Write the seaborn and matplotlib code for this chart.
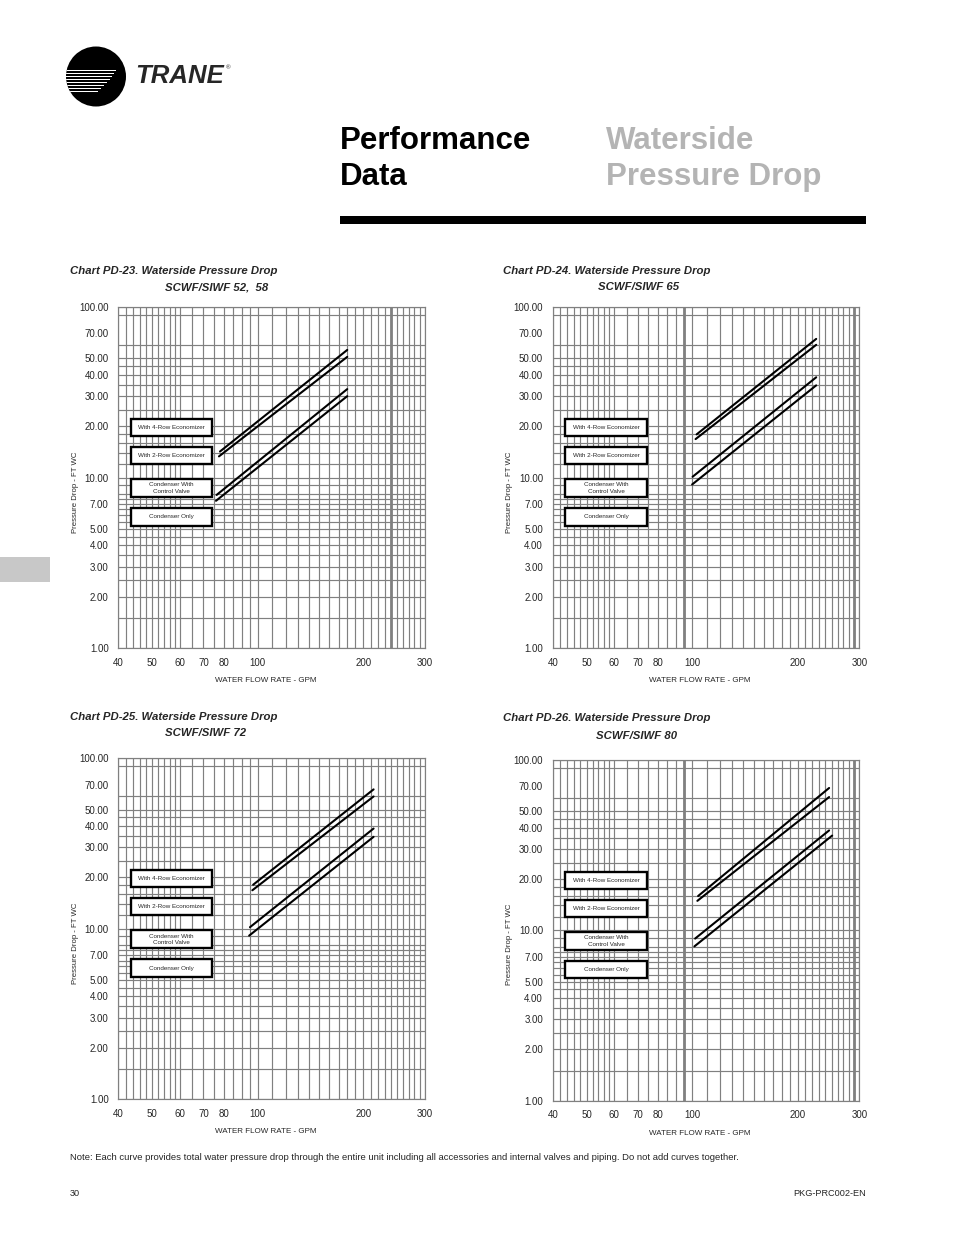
import numpy as np
import pandas as pd
import matplotlib
matplotlib.use("Agg")
import matplotlib.pyplot as plt
import seaborn as sns
from matplotlib.patches import Rectangle, Circle
from matplotlib.ticker import FixedLocator, NullFormatter, FixedFormatter

# ---------------- data ----------------
chart_ids = ["PD-23", "PD-24", "PD-25", "PD-26"]
chart_models = ["SCWF/SIWF 52,  58", "SCWF/SIWF 65", "SCWF/SIWF 72", "SCWF/SIWF 80"]
curve_names = ["With 4-Row Economizer", "With 2-Row Economizer",
               "Condenser With\nControl Valve", "Condenser Only"]

# start / end flow (GPM) and pressure drop (FT WC) of each curve, per chart
pd23_gpm = [[78.0, 180.0], [77.5, 180.0], [76.3, 180.0], [76.0, 180.0]]
pd23_ft = [[14.2, 56.0], [13.3, 51.0], [7.9, 33.0], [7.3, 30.0]]

pd24_gpm = [[103.0, 226.0], [102.3, 226.0], [100.3, 226.0], [100.0, 226.0]]
pd24_ft = [[17.9, 65.0], [16.8, 60.0], [10.1, 38.7], [9.1, 34.7]]

pd25_gpm = [[97.0, 214.0], [96.5, 214.0], [95.0, 214.0], [94.5, 214.0]]
pd25_ft = [[18.1, 65.7], [16.8, 59.7], [10.2, 38.7], [9.1, 34.6]]

pd26_gpm = [[104.0, 246.0], [103.5, 246.0], [102.0, 246.0], [101.5, 251.0]]
pd26_ft = [[15.9, 68.5], [14.9, 60.6], [8.95, 38.6], [8.05, 36.0]]

x_tick_vals = [40, 50, 60, 70, 80, 100, 200, 300]
x_tick_labels = ["40", "50", "60", "70", "80", "100", "200", "300"]
y_tick_vals = [1, 2, 3, 4, 5, 7, 10, 20, 30, 40, 50, 70, 100]
y_tick_labels = ["%.2f" % v for v in y_tick_vals]

# graph-paper grid of the printed charts
x_grid = list(range(40, 60, 2)) + list(range(60, 100, 5)) + list(range(100, 301, 10))
y_grid = [1, 1.5, 2, 2.5, 3, 3.5, 4, 4.5, 5, 5.5, 6, 6.5, 7, 7.5, 8, 9, 10,
          12, 14, 16, 18, 20, 25, 30, 35, 40, 45, 50, 60, 90, 100]
heavy_x = [[240], [95, 290], [], [95, 290]]

gpm_all = [pd23_gpm, pd24_gpm, pd25_gpm, pd26_gpm]
ft_all = [pd23_ft, pd24_ft, pd25_ft, pd26_ft]

rows = []
for cid, g, f in zip(chart_ids, gpm_all, ft_all):
    for name, gg, ff in zip(curve_names, g, f):
        for xv, yv in zip(gg, ff):
            rows.append({"chart": cid, "curve": name, "gpm": xv, "ft": yv})
df = pd.DataFrame(rows)

# ---------------- figure ----------------
sns.set_style("white")
plt.rcParams["font.family"] = ["Liberation Sans", "DejaVu Sans"]

W, H = 954, 1235
fig = plt.figure(figsize=(W / 100, H / 100), dpi=100)


def fx(px):
    return px / W


def fy(py):
    return 1 - py / H


# axes boxes in pixel coords: left, right, top, bottom
axes_px = [
    (118.3, 425.0, 307.0, 648.0),
    (552.7, 859.3, 307.0, 648.0),
    (118.3, 425.0, 758.3, 1099.0),
    (552.7, 859.3, 760.0, 1100.7),
]
title_px = [
    ((70, 271.0), (217, 287.3)),
    ((503, 271.0), (639, 287.3)),
    ((70, 716.5), (206, 733.3)),
    ((503, 718.3), (637, 735.7)),
]

gray = "#808080"
box_fracs = [(0.622, 0.672), (0.540, 0.590), (0.442, 0.496), (0.359, 0.410)]

for i, cid in enumerate(chart_ids):
    l, r, t, b = axes_px[i]
    ax = fig.add_axes([fx(l), fy(b), fx(r - l), (b - t) / H])
    ax.set_xscale("log")
    ax.set_yscale("log")
    ax.set_xlim(40, 300)
    ax.set_ylim(1, 100)

    for xv in x_grid:
        ax.axvline(xv, color=gray, lw=0.85, zorder=1)
    for xv in heavy_x[i]:
        ax.axvline(xv, color=gray, lw=2.0, zorder=1)
    for yv in y_grid:
        ax.axhline(yv, color=gray, lw=0.85, zorder=1)

    sub = df[df["chart"] == cid]
    sns.lineplot(data=sub, x="gpm", y="ft", units="curve", estimator=None,
                 color="black", lw=1.5, ax=ax, zorder=3, legend=False)

    for sp in ax.spines.values():
        sp.set_color(gray)
        sp.set_linewidth(0.85)

    ax.xaxis.set_major_locator(FixedLocator(x_tick_vals))
    ax.xaxis.set_major_formatter(FixedFormatter(x_tick_labels))
    ax.xaxis.set_minor_locator(FixedLocator([45, 55, 65, 75, 90, 150, 250]))
    ax.xaxis.set_minor_formatter(NullFormatter())
    ax.yaxis.set_major_locator(FixedLocator(y_tick_vals))
    ax.yaxis.set_major_formatter(FixedFormatter(y_tick_labels))
    ax.yaxis.set_minor_locator(FixedLocator(
        [1.25, 1.75, 2.25, 2.75, 3.25, 3.75, 4.25, 4.75, 6, 8, 9,
         12.5, 15, 17.5, 22.5, 27.5, 60, 80, 90]))
    ax.yaxis.set_minor_formatter(NullFormatter())
    ax.tick_params(axis="both", which="major", direction="out", length=5,
                   width=0.85, color=gray, labelsize=7, pad=2)
    ax.tick_params(axis="both", which="minor", direction="out", length=4,
                   width=0.85, color=gray)
    ax.tick_params(axis="x", which="major", pad=2)
    ax.set_xlabel("")
    ax.set_ylabel("")

    ax.text(0.48, -0.096, "WATER FLOW RATE - GPM", transform=ax.transAxes,
            ha="center", va="center", fontsize=5.8)
    ax.text(-0.141, 0.458, "Pressure Drop - FT WC", transform=ax.transAxes,
            ha="center", va="center", rotation=90, fontsize=5.6)

    # legend boxes
    for name, (y0, y1) in zip(curve_names, box_fracs):
        ax.add_patch(Rectangle((0.041, y0), 0.266, y1 - y0, transform=ax.transAxes,
                               facecolor="white", edgecolor="black", lw=1.7,
                               zorder=4))
        ax.text(0.174, (y0 + y1) / 2, name, transform=ax.transAxes, ha="center",
                va="center", fontsize=4.5, zorder=5, linespacing=1.35)

    (t1x, t1y), (t2x, t2y) = title_px[i]
    fig.text(fx(t1x), fy(t1y), "Chart %s. Waterside Pressure Drop" % cid,
             ha="left", va="center", fontsize=8.2, fontweight="bold",
             fontstyle="italic")
    fig.text(fx(t2x), fy(t2y), chart_models[i], ha="center", va="center",
             fontsize=8.2, fontweight="bold", fontstyle="italic")

# ---------------- page decoration ----------------
fig.text(fx(340), fy(141), "Performance", ha="left", va="center",
         fontsize=22.5, fontweight="bold", color="black")
fig.text(fx(340), fy(177), "Data", ha="left", va="center",
         fontsize=22.5, fontweight="bold", color="black")
fig.text(fx(606), fy(141), "Waterside", ha="left", va="center",
         fontsize=22.5, fontweight="bold", color="#b4b4b4")
fig.text(fx(606), fy(177), "Pressure Drop", ha="left", va="center",
         fontsize=22.5, fontweight="bold", color="#b4b4b4")
fig.add_artist(Rectangle((fx(340), fy(224)), fx(866 - 340), 8 / H,
                         transform=fig.transFigure, facecolor="black",
                         edgecolor="none"))

# gray side tab
fig.add_artist(Rectangle((0, fy(582)), fx(50), 25 / H, transform=fig.transFigure,
                         facecolor="#c8c8c8", edgecolor="none"))

# logo
lax = fig.add_axes([fx(60), fy(112), fx(74), 74 / H])
lax.set_xlim(60, 134)
lax.set_ylim(112, 38)
lax.set_aspect("equal")
lax.axis("off")
circ = Circle((96, 76.5), 30, facecolor="black", edgecolor="none")
lax.add_patch(circ)
for k, (yy, xe) in enumerate([(70, 116), (73, 114), (76, 112), (79, 110),
                              (82, 107), (85, 104), (88, 101), (91, 98)]):
    strip = Rectangle((60, yy), xe - 60, 1.0, facecolor="white", edgecolor="none")
    lax.add_patch(strip)
    strip.set_clip_path(circ)
fig.text(fx(135), fy(76), "TRANE", ha="left", va="center", fontsize=18.5,
         fontweight="bold", fontstyle="italic")
fig.text(fx(226), fy(68), "®", ha="left", va="center", fontsize=4.5)

# note and footer
fig.text(fx(70), fy(1157),
         "Note: Each curve provides total water pressure drop through the entire unit "
         "including all accessories and internal valves and piping. Do not add curves together.",
         ha="left", va="center", fontsize=6.8)
fig.text(fx(70), fy(1193), "30", ha="left", va="center", fontsize=6.6)
fig.text(fx(866), fy(1193), "PKG-PRC002-EN", ha="right", va="center", fontsize=6.6)

fig.savefig("out.png", dpi=100, facecolor="white")
